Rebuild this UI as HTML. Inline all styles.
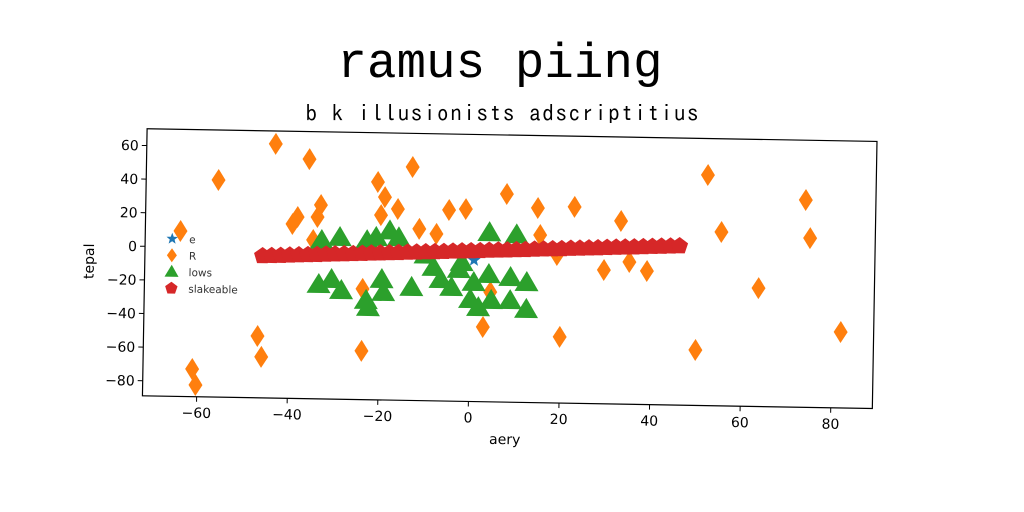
<!DOCTYPE html>
<html><head><meta charset="utf-8"><style>
html,body{margin:0;padding:0;background:#fff;}
svg{display:block;}
</style></head><body>
<svg id="chart" width="1024" height="512" viewBox="0 0 1024 512" xmlns="http://www.w3.org/2000/svg">
<rect width="1024" height="512" fill="#fff"/>
<text x="500" y="77" text-anchor="middle" font-family="'Liberation Mono',monospace" font-size="49" textLength="325" fill="#000">ramus piing</text>
<text x="502" y="121" text-anchor="middle" font-family="'IPAGothic','Liberation Sans',sans-serif" font-size="23" textLength="393" fill="#000">b k illusionists adscriptitius</text>
<g transform="translate(4,2)"><g id="plot" transform="rotate(1,467,250)"></g></g>
</svg>
<script>
const xTicks=[-60,-40,-20,0,20,40,60,80];
const yTicks=[60,40,20,0,-20,-40,-60,-80];
const eX=[0.7];
const eY=[-4.8];
const rX=[-43.5,-36,-56,-13.2,-20.8,-19.2,-20,-16.3,-11.5,-38.4,-39.5,-33.3,-34,-34.9,-7.7,-5,-1.3,7.7,14.6,15.2,22.7,33,19,29.4,35,38.9,52,55.2,73.7,74.8,63.6,49.9,81.9,19.9,2.9,4.4,-23.8,-46.8,-45.9,-61.1,-60.3,-23.8,-64.2];
const rY=[62.3,53.6,40.2,50,40.7,31.8,21,24.8,13.2,19,14.8,26.4,19.2,5.5,10.4,24.8,25.5,34.9,26.9,10.8,27.9,20,-0.9,-9.3,-4.3,-9.5,48.3,14.5,34.4,11.8,-18.5,-56,-43.8,-49.6,-44.5,-23.6,-60,-52.2,-64.6,-72.5,-82,-23.1,9.5];
const lX=[-33,-29,-23,-21,-18,-16,4,10,-33.5,-30.7,-28.5,-23,-22.5,-19.6,-19.2,-13,-8.2,-6.6,-4.2,-2.6,0,0.7,1.8,4,4.6,8.8,8.8,12.4,12.4,-10,-2];
const lY=[5.6,7.6,6,8,12,8,12,11,-20.6,-17.5,-24,-29.6,-33.8,-17,-24.7,-21.4,-9.3,-16.4,-21,-10.2,-28,-17.8,-32.7,-12.9,-28.3,-14.5,-28.2,-17.3,-33.3,-2,-6];
const sX=[-46,-44,-42,-40,-38,-36,-34,-32,-30,-28,-26,-24,-22,-20,-18,-16,-14,-12,-10,-8,-6,-4,-2,0,2,4,6,8,10,12,14,16,18,20,22,24,26,28,30,32,34,36,38,40,42,44,46];
const sY=[-4.5,-4.3,-4.1,-3.8,-3.6,-3.4,-3.2,-2.9,-2.7,-2.5,-2.3,-2.1,-1.8,-1.6,-1.4,-1.2,-0.9,-0.7,-0.5,-0.3,-0.1,0.2,0.4,0.6,0.8,1.1,1.3,1.5,1.7,1.9,2.2,2.4,2.6,2.8,3.1,3.3,3.5,3.7,4.0,4.2,4.4,4.6,4.8,5.1,5.3,5.5,5.7];

const NS='http://www.w3.org/2000/svg';
const g=document.getElementById('plot');
const L=141,R=871,T=132.4,B=399.5;
function X(v){return 467+4.53*v;}
function Y(v){return 250-1.68*v;}
function mk(tag,attrs,parent){const e=document.createElementNS(NS,tag);for(const k in attrs)e.setAttribute(k,attrs[k]);(parent||g).appendChild(e);return e;}

const frame=mk('rect',{x:L,y:T,width:R-L,height:B-T,fill:'#fff',stroke:'#000','stroke-width':1.2});



xTicks.forEach(t=>{
  const x=X(t);
  const tk=mk('line',{x1:x,x2:x,y1:B,y2:B+5,stroke:'#000'});
  
  
  const tx=mk('text',{x:x,y:B+21,'text-anchor':'middle','font-family':'DejaVu Sans,sans-serif','font-size':14,fill:'#000'});
  tx.textContent=t<0?'\u2212'+(-t):String(t);
  
  
});
yTicks.forEach(t=>{
  const y=Y(t);
  const tk=mk('line',{x1:L-5,x2:L,y1:y,y2:y,stroke:'#000'});
  
  
  const tx=mk('text',{x:L-8,y:y+5,'text-anchor':'end','font-family':'DejaVu Sans,sans-serif','font-size':14,fill:'#000'});
  tx.textContent=t<0?'\u2212'+(-t):String(t);
  
  
});
const xl=mk('text',{x:(L+R)/2-2,y:B+42,'text-anchor':'middle','font-family':'DejaVu Sans,sans-serif','font-size':14,fill:'#000'});
xl.textContent='aery';


const yl=mk('text',{x:0,y:0,'text-anchor':'middle','font-family':'DejaVu Sans,sans-serif','font-size':14,fill:'#000',transform:'translate(90,'+((T+B)/2)+') rotate(-90)'});
yl.textContent='tepal';



function star(cx,cy,r){let p=[];for(let i=0;i<10;i++){const a=-Math.PI/2+i*Math.PI/5;const rr=i%2?r*0.42:r;p.push((cx+rr*Math.cos(a)).toFixed(1)+','+(cy+rr*Math.sin(a)).toFixed(1));}return p.join(' ');}
function diamond(cx,cy){return `${cx},${cy-11} ${cx+7},${cy} ${cx},${cy+11} ${cx-7},${cy}`;}
function tri(cx,cy){return `${cx},${cy-11} ${cx+12},${cy+9} ${cx-12},${cy+9}`;}
function pent(cx,cy,r){let p=[];for(let i=0;i<5;i++){const a=-Math.PI/2+i*2*Math.PI/5;p.push((cx+r*Math.cos(a)).toFixed(1)+','+(cy+r*Math.sin(a)).toFixed(1));}return p.join(' ');}

eX.forEach((v,i)=>{const p=mk('polygon',{points:star(X(v),Y(eY[i]),7),fill:'#1f77b4'});
  
  });
rX.forEach((v,i)=>{const p=mk('polygon',{points:diamond(X(v),Y(rY[i])),fill:'#ff7f0e'});
  
  });
lX.forEach((v,i)=>{const p=mk('polygon',{points:tri(X(v),Y(lY[i])),fill:'#2ca02c'});
  
  });
sX.forEach((v,i)=>{const p=mk('polygon',{points:pent(X(v),Y(sY[i]),9),fill:'#d62728'});
  
  });

const leg=mk('g',{});


const items=[['e','#1f77b4','star'],['R','#ff7f0e','diamond'],['lows','#2ca02c','tri'],['slakeable','#d62728','pent']];
items.forEach((it,i)=>{
  const cx=168,cy=242+i*16.5;
  let pts;
  if(it[2]==='star')pts=star(cx,cy,6);
  else if(it[2]==='diamond')pts=`${cx},${cy-7} ${cx+5},${cy} ${cx},${cy+7} ${cx-5},${cy}`;
  else if(it[2]==='tri')pts=`${cx},${cy-7} ${cx+7},${cy+5} ${cx-7},${cy+5}`;
  else pts=pent(cx,cy,6.5);
  const m=mk('polygon',{points:pts,fill:it[1]},leg);
  
  
  const t=mk('text',{x:185,y:cy+4,'font-family':'DejaVu Sans,sans-serif','font-size':10.5,fill:'#333'},leg);
  t.textContent=it[0];
  
  
});
</script>
</body></html>
